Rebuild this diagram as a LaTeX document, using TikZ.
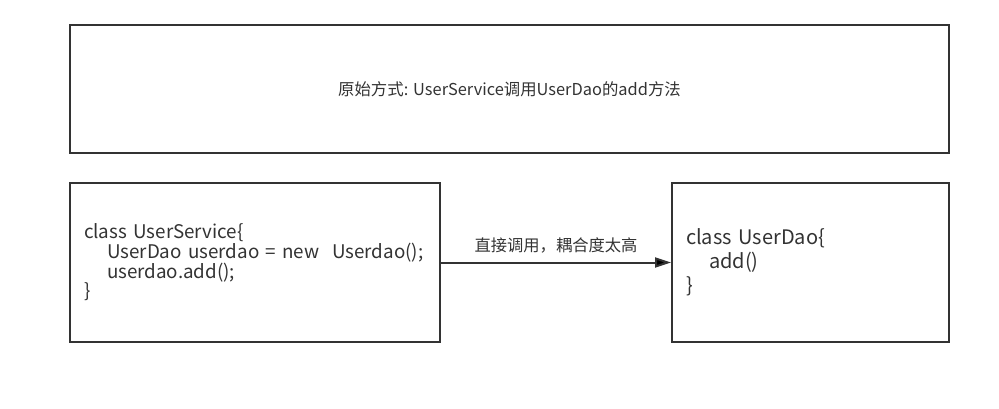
\documentclass[tikz,border=0pt]{standalone}
\usepackage{fontspec}
\setmainfont{Noto Sans CJK SC}
\usetikzlibrary{positioning,arrows.meta}
\definecolor{ink}{HTML}{333333}
\tikzset{>={Triangle[length=16pt,width=10pt]}}
\tikzset{box/.style={draw=ink,line width=2pt,rectangle,text=ink,inner xsep=14pt,inner ysep=0pt},
         code/.style={align=left,font=\fontsize{18.8}{18}\selectfont}}

\begin{document}
\begin{tikzpicture}[x=1pt,y=-1pt]
\useasboundingbox (0,0) rectangle (999,408);
\node [box,minimum width=879pt,minimum height=128pt,font=\fontsize{16.4}{18}\selectfont] (title) at (509.5,89) {原始方式: UserService调用UserDao的add方法};
\node [box,code,minimum width=370pt,minimum height=159pt,text width=342pt] (svc) at (255,262.5)
  {class UserService\{\\\hspace*{23pt}UserDao userdao = new\ \ Userdao();\\\hspace*{23pt}userdao.add();\\\}};
\node [box,code,minimum width=277pt,minimum height=159pt,text width=249pt,font=\fontsize{20}{24}\selectfont] (dao) at (810.5,262.5)
  {class UserDao\{\\\hspace*{23pt}add()\\\}};
\path [->,draw=ink,line width=2pt] (svc) edge node [above=5pt,text=ink,font=\fontsize{16.3}{18}\selectfont] {直接调用，耦合度太高} (dao)
;
\end{tikzpicture}
\end{document}
